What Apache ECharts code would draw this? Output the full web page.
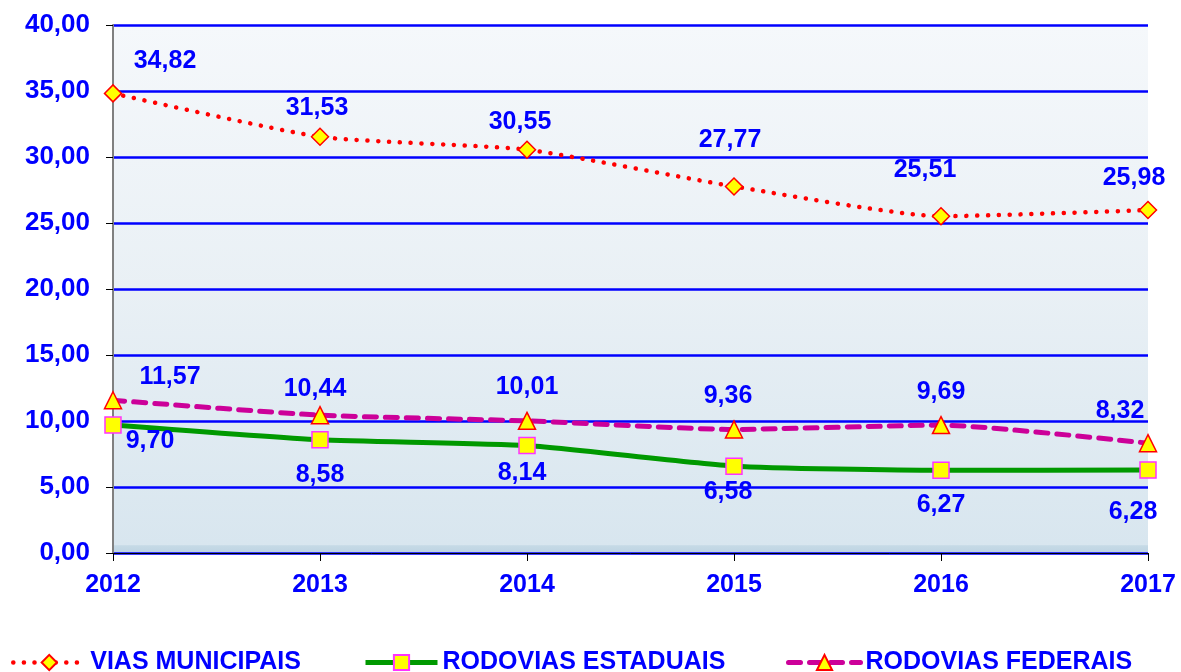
<!DOCTYPE html>
<html>
<head>
<meta charset="utf-8">
<script src="https://cdn.jsdelivr.net/npm/echarts@6/dist/echarts.min.js"></script>
<style>
html,body{margin:0;padding:0;background:#fff;}
#c{width:1181px;height:672px;}
</style>
</head>
<body>
<div id="c"></div>
<script>
const years = ['2012','2013','2014','2015','2016','2017'];
const viasMunicipais = [34.82, 31.53, 30.55, 27.77, 25.51, 25.98];
const rodoviasEstaduais = [9.70, 8.58, 8.14, 6.58, 6.27, 6.28];
const rodoviasFederais = [11.57, 10.44, 10.01, 9.36, 9.69, 8.32];
const yTicks = {min: 0, max: 40, interval: 5};

// label offsets (layout only)
const offMun = [[52,-32],[-3,-29],[-7,-28],[-4,-46],[-16,-46],[-14,-32]];
const offEst = [[37,16],[0,35],[-5,28],[-6,26],[0,35],[-15,42]];
const offFed = [[57,-23],[-5,-26],[0,-34],[-6,-33],[0,-33],[-28,-32]];

const FONT = 'Arial, "Liberation Sans", sans-serif';
const BLUE = '#0000FF';
const fmt = v => Number(v).toFixed(2).replace('.', ',');

function withLabels(vals, offs) {
  return vals.map((v, i) => ({
    value: v,
    label: {offset: offs[i]}
  }));
}
const labelBase = {
  show: true, position: 'inside', color: BLUE, fontFamily: FONT,
  fontWeight: 'bold', fontSize: 25,
  formatter: p => fmt(p.value)
};

const chart = echarts.init(document.getElementById('c'), null, {renderer: 'canvas'});
const legendCommon = {
  itemWidth: 72, itemHeight: 19, itemGap: 8, padding: 0,
  textStyle: {color: BLUE, fontFamily: FONT, fontWeight: 'bold', fontSize: 25}
};
chart.setOption({
  animation: false,
  backgroundColor: '#ffffff',
  grid: {
    left: 113, right: 33, top: 25, bottom: 119,
    show: true, borderWidth: 0,
    backgroundColor: new echarts.graphic.LinearGradient(0, 0, 0, 1, [
      {offset: 0, color: '#f5f8fb'},
      {offset: 0.5, color: '#e9f0f5'},
      {offset: 0.985, color: '#d8e6ef'},
      {offset: 0.986, color: '#c6dae6'},
      {offset: 1, color: '#bcd3e2'}
    ])
  },
  legend: [
    Object.assign({data: ['VIAS MUNICIPAIS'], left: 11, top: 650,
      lineStyle: {width: 4.5, type: [0.1, 10.5], cap: 'round'}}, legendCommon),
    Object.assign({data: ['RODOVIAS ESTADUAIS'], left: 363, top: 650,
      lineStyle: {width: 5}}, legendCommon),
    Object.assign({data: ['RODOVIAS FEDERAIS'], left: 786, top: 650,
      lineStyle: {width: 5, type: [12, 9], cap: 'round'}}, legendCommon)
  ],
  xAxis: {
    type: 'category', data: years, boundaryGap: false,
    axisLine: {show: true, lineStyle: {color: '#000', width: 1}},
    axisTick: {show: true, length: 8, lineStyle: {color: '#000'}},
    axisLabel: {color: BLUE, fontFamily: FONT, fontWeight: 'bold', fontSize: 25, margin: 20},
    splitLine: {show: false}
  },
  yAxis: {
    type: 'value', min: yTicks.min, max: yTicks.max, interval: yTicks.interval,
    axisLine: {show: true, lineStyle: {color: '#808080', width: 2}},
    axisTick: {show: true, length: 7, lineStyle: {color: '#000'}},
    axisLabel: {color: BLUE, fontFamily: FONT, fontWeight: 'bold', fontSize: 26, margin: 23, formatter: v => fmt(v)},
    splitLine: {show: true, lineStyle: {color: BLUE, width: 2.5}}
  },
  series: [
    {
      name: 'VIAS MUNICIPAIS', type: 'line', smooth: 0.18,
      data: withLabels(viasMunicipais, offMun),
      symbol: 'diamond', symbolSize: 17,
      itemStyle: {color: '#FFFF00', borderColor: '#FF0000', borderWidth: 1.5},
      lineStyle: {color: '#FF0000', width: 4.5, type: [0.1, 10.7], cap: 'round'},
      label: labelBase, z: 3
    },
    {
      name: 'RODOVIAS ESTADUAIS', type: 'line', smooth: 0.18,
      data: withLabels(rodoviasEstaduais, offEst),
      symbol: 'rect', symbolSize: 16,
      itemStyle: {color: '#FFFF00', borderColor: '#FF33FF', borderWidth: 1.5},
      lineStyle: {color: '#009900', width: 5},
      label: labelBase, z: 4
    },
    {
      name: 'RODOVIAS FEDERAIS', type: 'line', smooth: 0.18,
      data: withLabels(rodoviasFederais, offFed),
      symbol: 'triangle', symbolSize: 17,
      itemStyle: {color: '#FFFF00', borderColor: '#FF0000', borderWidth: 1.5},
      lineStyle: {color: '#CC0099', width: 5, type: [12, 9], cap: 'round'},
      label: labelBase, z: 3
    }
  ]
});
</script>
</body>
</html>
